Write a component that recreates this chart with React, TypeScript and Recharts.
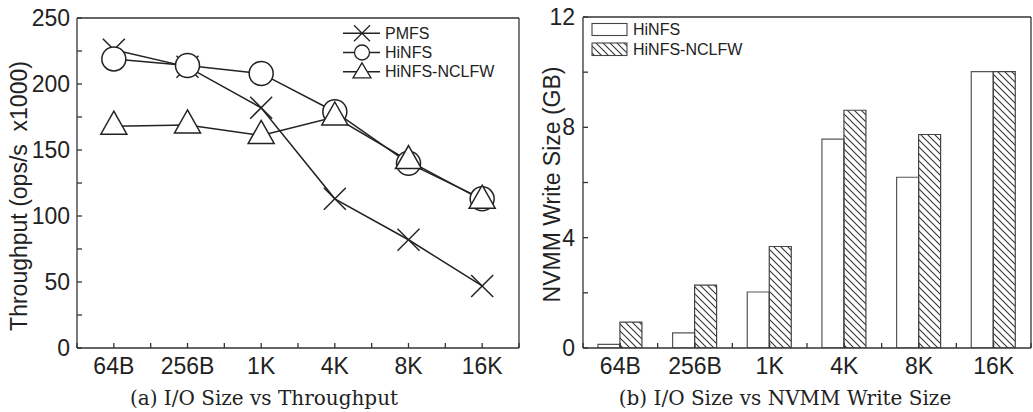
import React from 'react';
import { LineChart, Line, BarChart, Bar, XAxis, YAxis } from 'recharts';

// ---- data ----
const categories = ['64B', '256B', '1K', '4K', '8K', '16K'];
const pmfsThroughput = [226, 213, 182, 113, 82, 47];
const hinfsThroughput = [219, 214, 208, 179, 140, 113];
const nclfwThroughput = [168, 169, 161, 175, 142, 112];
const hinfsWrite = [0.13, 0.55, 2.03, 7.57, 6.19, 10.02];
const nclfwWrite = [0.94, 2.28, 3.68, 8.62, 7.74, 10.02];
const throughputTicks = [0, 25, 50, 75, 100, 125, 150, 175, 200, 225, 250];
const throughputLabels = [0, 50, 100, 150, 200, 250];
const writeTicks = [0, 2, 4, 6, 8, 10, 12];
const writeLabels = [0, 4, 8, 12];
const xTicks = [-0.5, 0, 0.5, 1, 1.5, 2, 2.5, 3, 3.5, 4, 4.5, 5, 5.5];

const lineData = categories.map((cat, i) => ({
  x: i,
  cat,
  pmfs: pmfsThroughput[i],
  hinfs: hinfsThroughput[i],
  nclfw: nclfwThroughput[i],
}));
const barData = categories.map((cat, i) => ({
  x: i,
  cat,
  hinfs: hinfsWrite[i],
  nclfw: nclfwWrite[i],
}));

const FONT = '"Liberation Sans", Arial, Helvetica, sans-serif';
const SERIF = '"DejaVu Serif", serif';
const INK = '#222';
const AXIS = '#333';

const fmtCat = (v: number) => (Number.isInteger(v) ? categories[v] ?? '' : '');
const fmtT = (v: number) => (throughputLabels.includes(v) ? String(v) : '');
const fmtW = (v: number) => (writeLabels.includes(v) ? String(v) : '');
const tickStyle = { fill: INK, fontSize: 23, fontFamily: FONT };

const XDot = (p: any) => {
  const { cx, cy, index } = p;
  if (cx == null || cy == null) return <g key={`x${index}`} />;
  const r = 11;
  return (
    <g key={`x${index}`}>
      <line x1={cx - r} y1={cy - r} x2={cx + r} y2={cy + r} stroke={INK} strokeWidth={1.5} />
      <line x1={cx - r} y1={cy + r} x2={cx + r} y2={cy - r} stroke={INK} strokeWidth={1.5} />
    </g>
  );
};
const ODot = (p: any) => {
  const { cx, cy, index } = p;
  if (cx == null || cy == null) return <g key={`o${index}`} />;
  return <circle key={`o${index}`} cx={cx} cy={cy} r={12} fill="#fff" stroke={INK} strokeWidth={1.5} />;
};
const TDot = (p: any) => {
  const { cx, cy, index } = p;
  if (cx == null || cy == null) return <g key={`t${index}`} />;
  const pts = `${cx},${cy - 15} ${cx + 13},${cy + 8} ${cx - 13},${cy + 8}`;
  return <polygon key={`t${index}`} points={pts} fill="#fff" stroke={INK} strokeWidth={1.5} />;
};

const makeYTitle = (dx: number, dy: number) => (props: any) => {
  const { viewBox, value } = props;
  const x = viewBox.x + dx;
  const y = viewBox.y + viewBox.height / 2 + dy;
  return (
    <text
      x={x}
      y={y}
      transform={`rotate(-90, ${x}, ${y})`}
      textAnchor="middle"
      fill={INK}
      fontSize={23}
      fontFamily={FONT}
      style={{ whiteSpace: 'pre' }}
    >
      {value}
    </text>
  );
};
const makeCaption = (dx: number, dy: number) => (props: any) => {
  const { viewBox, value } = props;
  return (
    <text
      x={viewBox.x + viewBox.width / 2 + dx}
      y={viewBox.y + dy}
      textAnchor="middle"
      fill={INK}
      fontSize={20}
      fontFamily={SERIF}
    >
      {value}
    </text>
  );
};

const Legends = () => {
  const rows = [
    { y: 33.3, name: 'PMFS', kind: 'x' },
    { y: 52.5, name: 'HiNFS', kind: 'o' },
    { y: 71.8, name: 'HiNFS-NCLFW', kind: 't' },
  ];
  return (
    <svg
      width={1033}
      height={412}
      style={{ position: 'absolute', left: 0, top: 0, pointerEvents: 'none' }}
    >
      <defs>
        <pattern id="hatch" patternUnits="userSpaceOnUse" width={7} height={7}>
          <path d="M0,0 L7,7 M-2,5 L2,9 M5,-2 L9,2" stroke="#333" strokeWidth={1.1} />
        </pattern>
      </defs>
      {rows.map((r) => {
        const cx = 362;
        return (
          <g key={r.name}>
            <line x1={343} y1={r.y} x2={380} y2={r.y} stroke={INK} strokeWidth={1.5} />
            {r.kind === 'x' && (
              <g>
                <line x1={cx - 8} y1={r.y - 8} x2={cx + 8} y2={r.y + 8} stroke={INK} strokeWidth={1.3} />
                <line x1={cx - 8} y1={r.y + 8} x2={cx + 8} y2={r.y - 8} stroke={INK} strokeWidth={1.3} />
              </g>
            )}
            {r.kind === 'o' && <circle cx={cx} cy={r.y} r={7.5} fill="#fff" stroke={INK} strokeWidth={1.3} />}
            {r.kind === 't' && (
              <polygon
                points={`${cx},${r.y - 9} ${cx + 9},${r.y + 6} ${cx - 9},${r.y + 6}`}
                fill="#fff"
                stroke={INK}
                strokeWidth={1.3}
              />
            )}
            <text x={385} y={r.y + 5.5} fill={INK} fontSize={16} fontFamily={FONT}>
              {r.name}
            </text>
          </g>
        );
      })}
      <rect x={592} y={23.5} width={35} height={12} fill="#fff" stroke="#444" strokeWidth={1.1} />
      <text x={633} y={35} fill={INK} fontSize={16} fontFamily={FONT}>HiNFS</text>
      <rect x={592} y={43} width={35} height={12.5} fill="url(#hatch)" stroke="#444" strokeWidth={1.1} />
      <text x={633} y={55} fill={INK} fontSize={16} fontFamily={FONT}>HiNFS-NCLFW</text>
    </svg>
  );
};

export default function App() {
  return (
    <div
      style={{
        position: 'absolute',
        left: 0,
        top: 0,
        width: 1033,
        height: 412,
        background: '#fff',
        overflow: 'hidden',
      }}
    >
      <div style={{ position: 'absolute', left: 0, top: 0 }}>
        <LineChart width={520} height={412} data={lineData} margin={{ top: 17, right: 0, bottom: 0, left: 0 }}>
          <XAxis
            xAxisId="b"
            dataKey="x"
            type="number"
            domain={[-0.5, 5.5]}
            ticks={xTicks}
            interval={0}
            allowDataOverflow
            tickFormatter={fmtCat}
            tickSize={-5}
            tickMargin={15}
            height={64}
            stroke={AXIS}
            strokeWidth={1.3}
            tick={tickStyle}
            label={{ value: '(a) I/O Size vs Throughput', content: makeCaption(-34, 57) }}
          />
          <XAxis
            xAxisId="t"
            dataKey="x"
            orientation="top"
            type="number"
            domain={[-0.5, 5.5]}
            ticks={xTicks}
            interval={0}
            allowDataOverflow
            tick={false}
            tickSize={-5}
            height={1}
            stroke={AXIS}
            strokeWidth={1.3}
          />
          <YAxis
            yAxisId="l"
            type="number"
            domain={[0, 250]}
            ticks={throughputTicks}
            interval={0}
            allowDataOverflow
            tickFormatter={fmtT}
            tickSize={-5}
            tickMargin={12}
            width={77}
            stroke={AXIS}
            strokeWidth={1.3}
            tick={tickStyle}
            label={{ value: 'Throughput (ops/s  x1000)', content: makeYTitle(27, 13) }}
          />
          <YAxis
            yAxisId="r"
            orientation="right"
            type="number"
            domain={[0, 250]}
            ticks={throughputTicks}
            interval={0}
            allowDataOverflow
            tick={false}
            tickSize={-5}
            width={1}
            stroke={AXIS}
            strokeWidth={1.3}
          />
          <Line
            xAxisId="b"
            yAxisId="l"
            dataKey="pmfs"
            stroke={INK}
            strokeWidth={1.5}
            dot={XDot}
            activeDot={false}
            isAnimationActive={false}
          />
          <Line
            xAxisId="b"
            yAxisId="l"
            dataKey="hinfs"
            stroke={INK}
            strokeWidth={1.5}
            dot={ODot}
            activeDot={false}
            isAnimationActive={false}
          />
          <Line
            xAxisId="b"
            yAxisId="l"
            dataKey="nclfw"
            stroke={INK}
            strokeWidth={1.5}
            dot={TDot}
            activeDot={false}
            isAnimationActive={false}
          />
        </LineChart>
      </div>
      <div style={{ position: 'absolute', left: 520, top: 0 }}>
        <BarChart
          width={513}
          height={412}
          data={barData}
          margin={{ top: 16, right: 1, bottom: 0, left: 0 }}
          barCategoryGap="20%"
          barGap={0}
        >
          <XAxis xAxisId="c" dataKey="cat" hide />
          <XAxis
            xAxisId="b"
            dataKey="x"
            type="number"
            domain={[-0.5, 5.5]}
            ticks={xTicks}
            interval={0}
            allowDataOverflow
            tickFormatter={fmtCat}
            tickSize={-5}
            tickMargin={15}
            height={64}
            stroke={AXIS}
            strokeWidth={1.3}
            tick={tickStyle}
            label={{ value: '(b) I/O Size vs NVMM Write Size', content: makeCaption(-22, 57) }}
          />
          <XAxis
            xAxisId="t"
            dataKey="x"
            orientation="top"
            type="number"
            domain={[-0.5, 5.5]}
            ticks={xTicks}
            interval={0}
            allowDataOverflow
            tick={false}
            tickSize={-5}
            height={1}
            stroke={AXIS}
            strokeWidth={1.3}
          />
          <YAxis
            yAxisId="l"
            type="number"
            domain={[0, 12]}
            ticks={writeTicks}
            interval={0}
            allowDataOverflow
            tickFormatter={fmtW}
            tickSize={-5}
            tickMargin={13}
            width={63}
            stroke={AXIS}
            strokeWidth={1.3}
            tick={tickStyle}
            label={{ value: 'NVMM Write Size (GB)', content: makeYTitle(40, 2) }}
          />
          <YAxis
            yAxisId="r"
            orientation="right"
            type="number"
            domain={[0, 12]}
            ticks={writeTicks}
            interval={0}
            allowDataOverflow
            tick={false}
            tickSize={-5}
            width={1}
            stroke={AXIS}
            strokeWidth={1.3}
          />
          <Bar
            xAxisId="c"
            yAxisId="l"
            dataKey="hinfs"
            fill="#fff"
            stroke="#555"
            strokeWidth={1.2}
            isAnimationActive={false}
          />
          <Bar
            xAxisId="c"
            yAxisId="l"
            dataKey="nclfw"
            fill="url(#hatch)"
            stroke="#444"
            strokeWidth={1.2}
            isAnimationActive={false}
          />
        </BarChart>
      </div>
      <Legends />
    </div>
  );
}
